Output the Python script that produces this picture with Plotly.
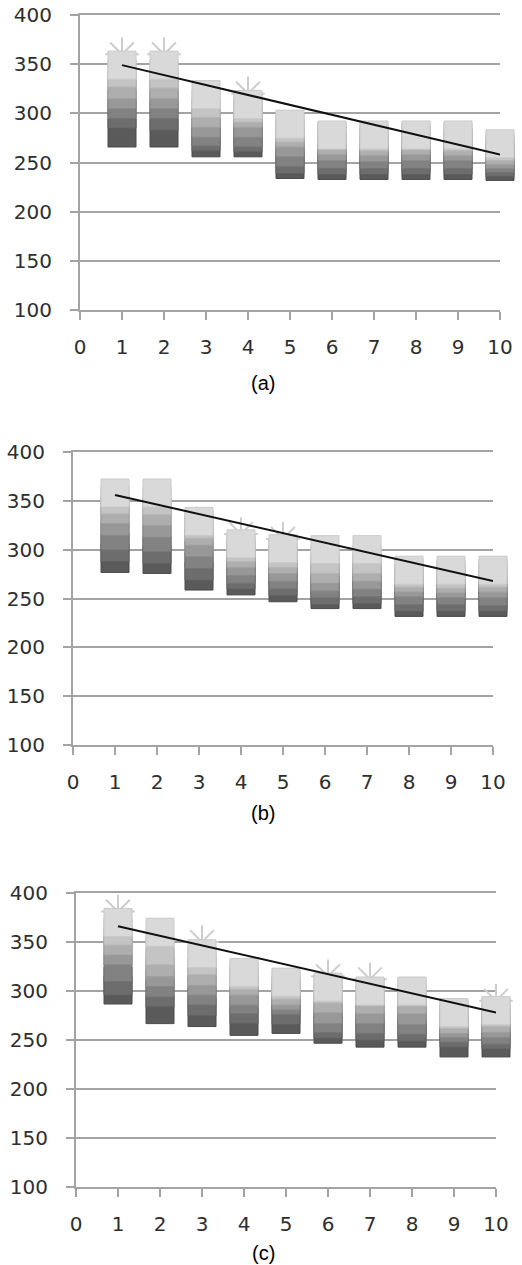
import plotly.graph_objects as go

# ---------------- data ----------------
x_vals = [1, 2, 3, 4, 5, 6, 7, 8, 9, 10]
x_ticks = [0, 1, 2, 3, 4, 5, 6, 7, 8, 9, 10]
y_ticks = [100, 150, 200, 250, 300, 350, 400]
panel_labels = ["(a)", "(b)", "(c)"]

# panel (a): s1 = darkest (lowest) ... s7 = lightest (highest)
a_s1 = [280, 280, 270, 270, 248, 247, 247, 247, 247, 246]
a_s2 = [299, 297, 276, 275, 253, 252, 252, 252, 252, 250]
a_s3 = [309, 309, 281, 280, 260, 258, 258, 258, 258, 254]
a_s4 = [319, 319, 290, 290, 270, 266, 265, 266, 266, 258]
a_s5 = [329, 329, 300, 300, 280, 272, 271, 272, 271, 262]
a_s6 = [341, 340, 310, 305, 285, 277, 276, 277, 276, 266]
a_s7 = [349, 349, 319, 309, 289, 278, 278, 278, 278, 269]
# star markers only where their spikes show above the squares
a_star = [360, 360, None, 320, None, None, None, None, None, None]
a_trend = [349, 258]

# panel (b)
b_s1 = [291, 290, 273, 268, 261, 254, 254, 246, 246, 246]
b_s2 = [302, 300, 283, 274, 267, 258, 259, 251, 251, 251]
b_s3 = [314, 312, 295, 280, 274, 265, 266, 258, 258, 257]
b_s4 = [329, 327, 307, 288, 282, 272, 274, 266, 265, 265]
b_s5 = [341, 339, 319, 296, 290, 280, 282, 271, 270, 271]
b_s6 = [351, 350, 326, 302, 296, 290, 290, 276, 275, 276]
b_s7 = [358, 358, 329, 306, 301, 300, 300, 279, 279, 279]
b_star = [None, None, None, 316, 311, None, None, None, None, None]
b_trend = [356, 268]

# panel (c)
c_s1 = [301, 281, 278, 269, 271, 261, 257, 257, 247, 247]
c_s2 = [310, 298, 289, 281, 280, 266, 264, 263, 257, 255]
c_s3 = [324, 308, 300, 291, 290, 272, 271, 270, 262, 260]
c_s4 = [341, 319, 310, 300, 295, 281, 281, 280, 267, 267]
c_s5 = [351, 329, 320, 310, 300, 292, 291, 291, 271, 272]
c_s6 = [361, 341, 331, 316, 306, 302, 299, 299, 276, 278]
c_s7 = [370, 360, 338, 319, 309, 304, 300, 300, 278, 280]
c_star = [381, None, 350, None, None, 315, 312, None, None, 290]
c_trend = [366, 278]

trend_x = [1, 10]

shades = ["#5a5a5a", "#6d6d6d", "#828282", "#989898", "#aeaeae", "#c4c4c4", "#d9d9d9"]
edges = ["#4a4a4a", "#5e5e5e", "#737373", "#898989", "#9f9f9f", "#b5b5b5", "#cacaca"]

panels = [
    ([a_s1, a_s2, a_s3, a_s4, a_s5, a_s6, a_s7], a_star, a_trend),
    ([b_s1, b_s2, b_s3, b_s4, b_s5, b_s6, b_s7], b_star, b_trend),
    ([c_s1, c_s2, c_s3, c_s4, c_s5, c_s6, c_s7], c_star, c_trend),
]

# ---------------- layout geometry (pixels) ----------------
W, H = 522, 1265
# (x0 px, x10 px, y400 px, y100 px, label y px)
geom = [
    (80, 500, 15, 310, 383),
    (73, 493, 452, 745, 813),
    (76, 496, 893, 1187, 1253),
]

GRID = "#a3a3a3"
fig = go.Figure()
layout = dict(
    width=W, height=H,
    margin=dict(l=0, r=0, t=0, b=0, autoexpand=False),
    paper_bgcolor="white", plot_bgcolor="white",
    showlegend=False,
    annotations=[],
)

for i, (series, star, trend) in enumerate(panels):
    n = "" if i == 0 else str(i + 1)
    xa, ya = "x" + n, "y" + n
    fig.add_trace(go.Scatter(
        x=x_vals, y=star, xaxis=xa, yaxis=ya, mode="markers", cliponaxis=False,
        marker=dict(symbol="asterisk-open", size=28, color="#cdcdcd",
                    line=dict(color="#cdcdcd", width=2)),
        hoverinfo="skip"))
    for k, s in enumerate(series):
        fig.add_trace(go.Scatter(
            x=x_vals, y=s, xaxis=xa, yaxis=ya, mode="markers", cliponaxis=False,
            marker=dict(symbol="square", size=28, color=shades[k],
                        line=dict(color=edges[k], width=1)),
            hoverinfo="skip"))
    fig.add_trace(go.Scatter(
        x=trend_x, y=trend, xaxis=xa, yaxis=ya, mode="lines", cliponaxis=False,
        line=dict(color="#111111", width=2), hoverinfo="skip"))

    x0, x10, y400, y100, ly = geom[i]
    layout["xaxis" + n] = dict(
        domain=[x0 / W, x10 / W], anchor=ya, range=[0, 10], automargin=False,
        tickvals=x_ticks, ticktext=[str(t) for t in x_ticks],
        showgrid=False, zeroline=False,
        showline=True, linecolor=GRID, linewidth=2, mirror=True,
        ticks="outside", ticklen=8, tickwidth=2, tickcolor=GRID,
        ticklabelstandoff=10,
        tickfont=dict(family="DejaVu Sans", size=20, color="#2e2e2e"),
    )
    layout["yaxis" + n] = dict(
        domain=[1 - y100 / H, 1 - y400 / H], anchor=xa, range=[100, 400],
        automargin=False,
        tickvals=y_ticks, showgrid=True, gridcolor=GRID, gridwidth=2,
        zeroline=False, showline=True, linecolor=GRID, linewidth=2,
        ticks="outside", ticklen=8, tickwidth=2, tickcolor=GRID,
        ticklabelstandoff=14,
        tickfont=dict(family="DejaVu Sans", size=20, color="#2e2e2e"),
    )
    layout["annotations"].append(dict(
        text=panel_labels[i], x=263 / W, y=1 - ly / H, xref="paper", yref="paper",
        showarrow=False, xanchor="center", yanchor="middle",
        font=dict(family="Liberation Sans, Arial", size=20, color="#000000")))

fig.update_layout(**layout)
fig.write_html(
    "out.html",
    config={"displayModeBar": False},
    post_script="document.body.style.margin='0';document.body.style.overflow='hidden';",
)
